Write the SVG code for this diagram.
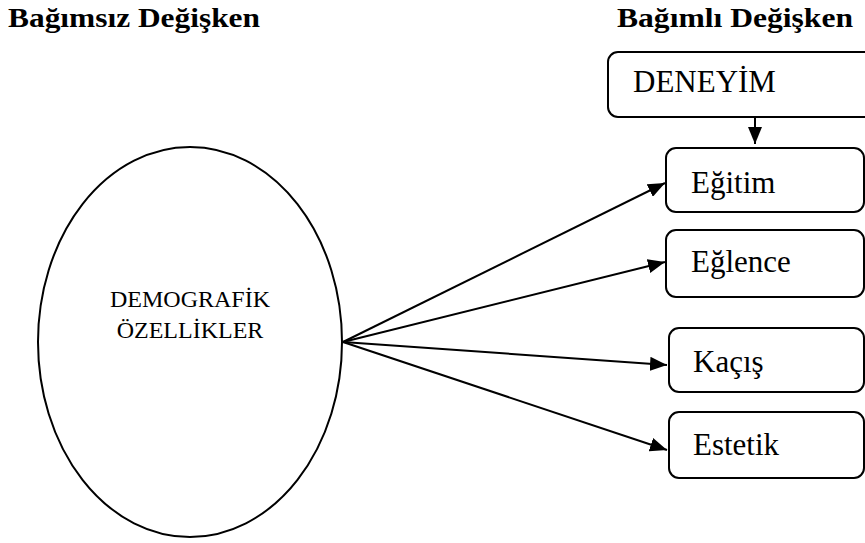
<svg xmlns="http://www.w3.org/2000/svg" width="865" height="543" viewBox="0 0 865 543">
<style>
text{font-family:'Liberation Serif','Times New Roman',serif;fill:#000}
.hdr{font-weight:bold;font-size:28px}
.lbl{font-size:31px}
.small{font-size:24px}
.box{fill:#fff;stroke:#000;stroke-width:2}
.edge{stroke:#000;stroke-width:2;fill:none}
</style>
<defs>
<marker id="arr" markerUnits="userSpaceOnUse" markerWidth="18" markerHeight="14" refX="17" refY="7" orient="auto">
<path d="M0,0 L17,7 L0,14 Z" fill="#000"/>
</marker>
</defs>
<rect width="865" height="543" fill="#fff"/>
<text class="hdr" x="8" y="27" textLength="252" lengthAdjust="spacingAndGlyphs">Bağımsız Değişken</text>
<text class="hdr" x="617" y="27" textLength="236" lengthAdjust="spacingAndGlyphs">Bağımlı Değişken</text>
<g id="demografik">
<ellipse class="box" cx="190" cy="342" rx="152" ry="195"/>
<text class="small" x="190" y="307" text-anchor="middle">DEMOGRAFİK</text>
<text class="small" x="190" y="338" text-anchor="middle">ÖZELLİKLER</text>
</g>
<g id="deneyim">
<rect class="box" x="608" y="52" width="270" height="65" rx="10"/>
<text class="lbl" x="633" y="92">DENEYİM</text>
</g>
<g id="egitim">
<rect class="box" x="666" y="148" width="198" height="64" rx="10"/>
<text class="lbl" x="691" y="193">Eğitim</text>
</g>
<g id="eglence">
<rect class="box" x="666" y="230" width="198" height="67" rx="10"/>
<text class="lbl" x="691" y="272">Eğlence</text>
</g>
<g id="kacis">
<rect class="box" x="669" y="328" width="195" height="64" rx="10"/>
<text class="lbl" x="693" y="372">Kaçış</text>
</g>
<g id="estetik">
<rect class="box" x="669" y="412" width="195" height="66" rx="10"/>
<text class="lbl" x="693" y="455">Estetik</text>
</g>
<g id="connectors">
<line class="edge" x1="755" y1="117" x2="755" y2="144" marker-end="url(#arr)"/>
<line class="edge" x1="343" y1="342" x2="665" y2="183" marker-end="url(#arr)"/>
<line class="edge" x1="343" y1="342" x2="665" y2="262" marker-end="url(#arr)"/>
<line class="edge" x1="343" y1="342" x2="667" y2="365" marker-end="url(#arr)"/>
<line class="edge" x1="343" y1="342" x2="667" y2="450" marker-end="url(#arr)"/>
</g>
</svg>
